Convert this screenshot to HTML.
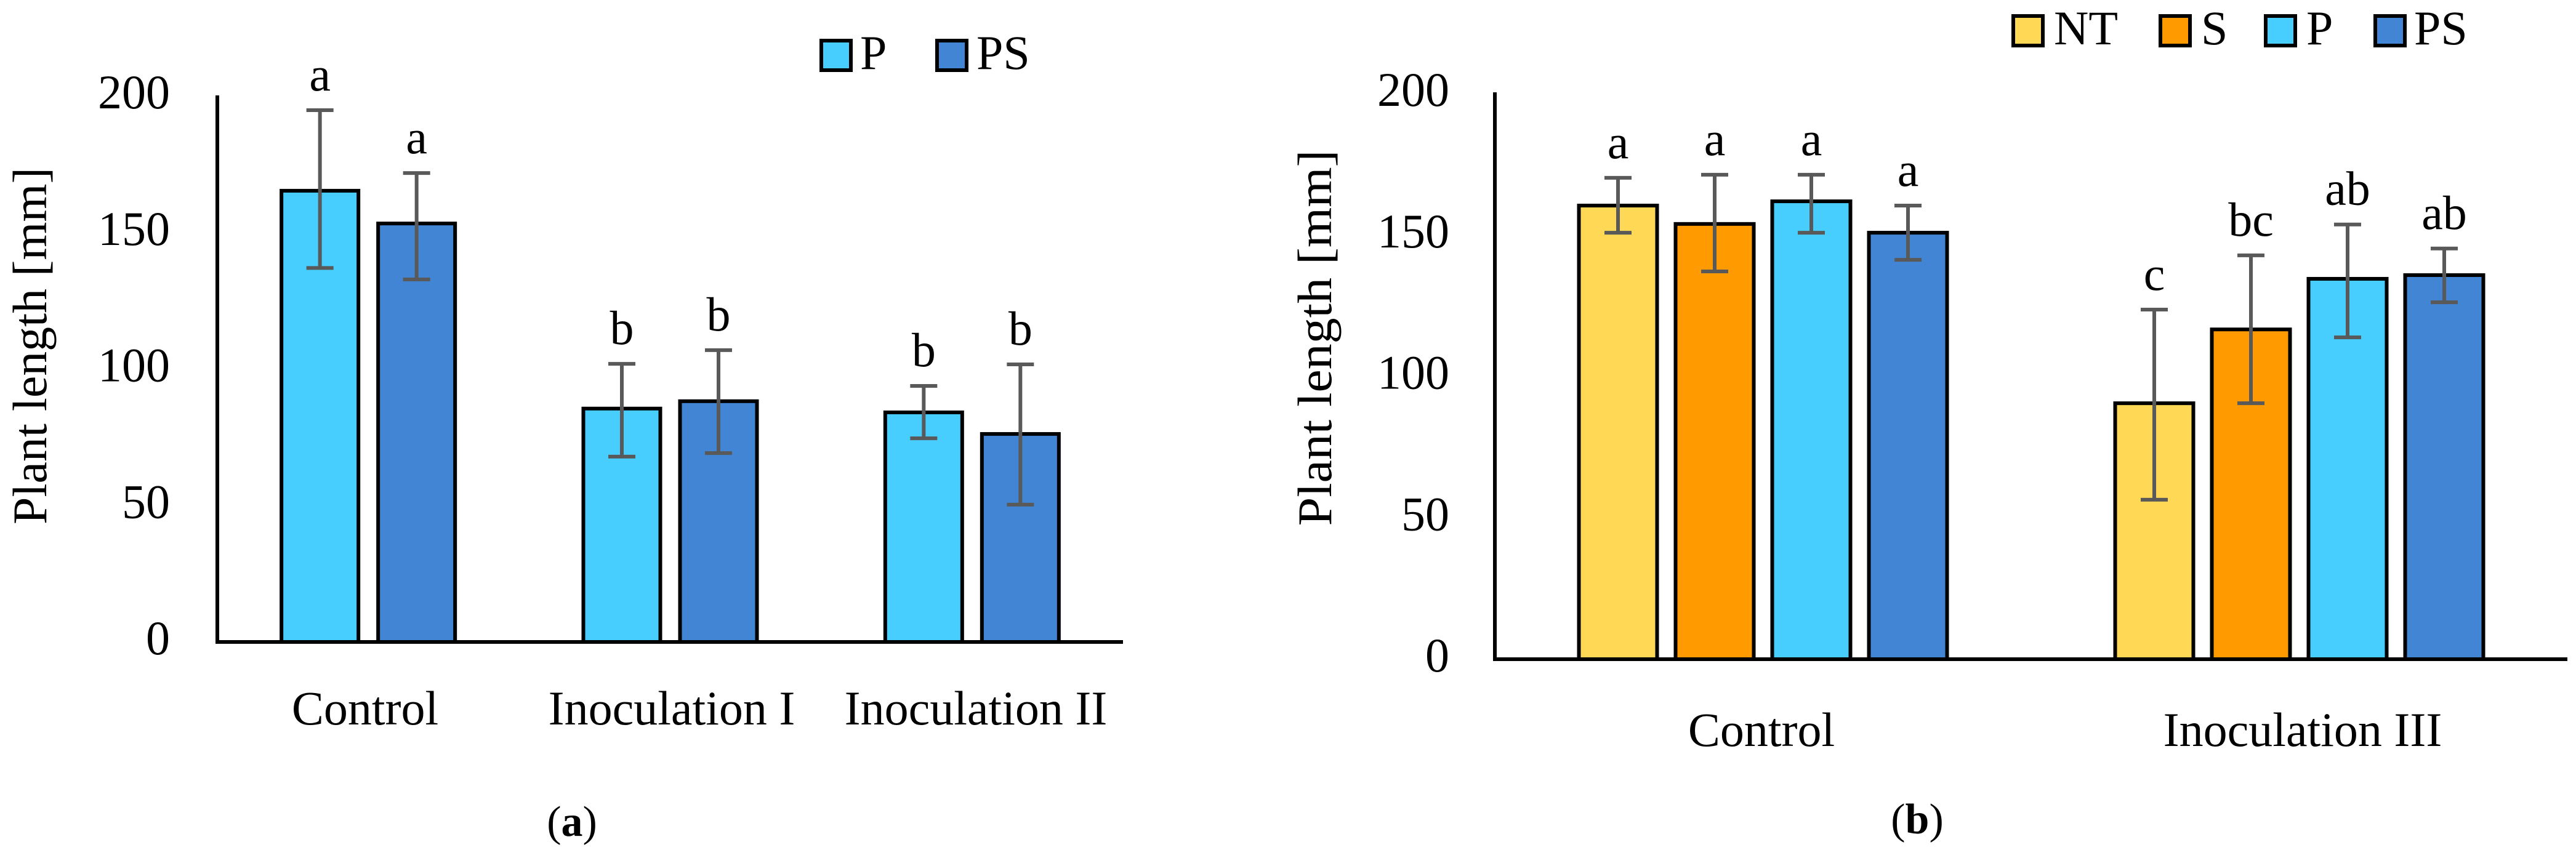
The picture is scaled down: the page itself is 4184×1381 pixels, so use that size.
<!DOCTYPE html>
<html><head><meta charset="utf-8"><style>
html,body{margin:0;padding:0;background:#fff;}
svg{display:block;font-family:"Liberation Serif",serif;}
</style></head><body>
<svg id="fig" width="4184" height="1381" viewBox="0 0 4184 1381">
<rect width="4184" height="1381" fill="#fff"/>
</svg>
<script>
// ---- data panel (a)
const catsA = ["Control", "Inoculation I", "Inoculation II"];
const seriesA = ["P", "PS"];
const valsA_P = [165.3, 85.5, 84.1];
const valsA_PS = [153.3, 88.2, 76.2];
const errHiA_P = [194.8, 101.9, 93.8];
const errLoA_P = [137.0, 67.9, 74.6];
const errHiA_PS = [171.8, 106.9, 101.7];
const errLoA_PS = [132.8, 69.2, 50.3];
const lettersA_P = ["a", "b", "b"];
const lettersA_PS = ["a", "b", "b"];
// ---- data panel (b)
const catsB = ["Control", "Inoculation III"];
const seriesB = ["NT", "S", "P", "PS"];
const valsB_NT = [160.4, 90.5];
const valsB_S = [153.9, 116.6];
const valsB_P = [161.9, 134.5];
const valsB_PS = [150.8, 135.8];
const errHiB_NT = [170.2, 123.6];
const errLoB_NT = [150.8, 56.4];
const errHiB_S = [171.3, 142.8];
const errLoB_S = [137.1, 90.5];
const errHiB_P = [171.3, 153.7];
const errLoB_P = [150.8, 113.8];
const errHiB_PS = [160.4, 145.2];
const errLoB_PS = [141.2, 126.2];
const lettersB_NT = ["a", "c"];
const lettersB_S = ["a", "bc"];
const lettersB_P = ["a", "ab"];
const lettersB_PS = ["a", "ab"];
const ticks = [0, 50, 100, 150, 200];

const NS = "http://www.w3.org/2000/svg";
const svg = document.getElementById("fig");
function mk(tag, attrs, parent, txt) {
  const e = document.createElementNS(NS, tag);
  for (const k in attrs) e.setAttribute(k, attrs[k]);
  if (txt !== undefined) e.textContent = txt;
  (parent || svg).appendChild(e);
  return e;
}
const colors = {NT: "#FFD955", S: "#FF9B00", P: "#47CEFF", PS: "#4285D4"};

function panel(cfg) {
  const g = mk("g", {});
  
  
  const y = v => cfg.y0 - v * cfg.ppu;
  const catW = (cfg.x1 - cfg.x0) / cfg.cats.length;
  const cx = i => cfg.x0 + catW * (i + 0.5);
  // ticks labels
  ticks.forEach(t => {
    const tl = mk("text", {x: cfg.tickX, y: y(t) + 20, "font-size": 78, "text-anchor": "end"}, g, String(t));
    
    
  });
  // bars
  const n = cfg.series.length;
  cfg.cats.forEach((c, i) => {
    cfg.series.forEach((s, j) => {
      const left = cx(i) + (j - n / 2) * cfg.pitch + (cfg.pitch - cfg.bw) / 2;
      const v = cfg.vals[j][i];
      const r = mk("rect", {x: left, y: y(v), width: cfg.bw, height: cfg.y0 - y(v), fill: colors[s], stroke: "#000", "stroke-width": 6}, g);
      
      
      const mx = left + cfg.bw / 2;
      const hi = y(cfg.hi[j][i]), lo = y(cfg.lo[j][i]);
      const eb = mk("path", {d: `M${mx},${hi}V${lo}M${mx-22},${hi}H${mx+22}M${mx-22},${lo}H${mx+22}`, stroke: "#595959", "stroke-width": 6, fill: "none"}, g);
      
      
      const lt = mk("text", {x: mx, y: hi - 32, "font-size": 78, "text-anchor": "middle"}, g, cfg.letters[j][i]);
      
      
    });
    const cl = mk("text", {x: cfg.catX[i], y: cfg.catY, "font-size": 78, "text-anchor": "middle"}, g, c);
    
    
  });
  // axes
  const ax = mk("path", {d: `M${cfg.x0},${cfg.top}V${cfg.y0}H${cfg.x1}`, stroke: "#000", "stroke-width": 6, fill: "none"}, g);
  
  
  const yt = mk("text", {x: 0, y: 0, "font-size": 78, "text-anchor": "middle", transform: `translate(${cfg.titleX},${cfg.titleY}) rotate(-90)`, textLength: cfg.titleLen, lengthAdjust: "spacingAndGlyphs"}, g, "Plant length [mm]");
  
  
  // legend
  cfg.series.forEach((s, j) => {
    const [sx, tx] = cfg.leg[j];
    const lr = mk("rect", {x: sx, y: cfg.legY, width: 48, height: 48, fill: colors[s], stroke: "#000", "stroke-width": 6}, g);
    
    
    const lt = mk("text", {x: tx, y: cfg.legY + 46, "font-size": 78}, g, s);
    
    
  });
  const cap = mk("text", {x: cfg.capX, y: cfg.capY + 22, "font-size": 70, "text-anchor": "middle"}, g);
  
  
  mk("tspan", {}, cap, "(");
  mk("tspan", {"font-weight": "bold"}, cap, cfg.capL);
  mk("tspan", {}, cap, ")");
}

panel({name: "panel-a", cats: catsA, series: seriesA,
  vals: [valsA_P, valsA_PS], hi: [errHiA_P, errHiA_PS], lo: [errLoA_P, errLoA_PS], letters: [lettersA_P, lettersA_PS],
  x0: 353, x1: 1824, y0: 1043, top: 155, ppu: 4.435, pitch: 157, bw: 125, tickX: 276,
  catX: [593, 1091, 1585], catY: 1177, titleX: 75, titleY: 562, titleLen: 580,
  leg: [[1334, 1397], [1522, 1586]], legY: 66, capX: 929, capY: 1336, capL: "a"});

panel({name: "panel-b", cats: catsB, series: seriesB,
  vals: [valsB_NT, valsB_S, valsB_P, valsB_PS], hi: [errHiB_NT, errHiB_S, errHiB_P, errHiB_PS], lo: [errLoB_NT, errLoB_S, errLoB_P, errLoB_PS],
  letters: [lettersB_NT, lettersB_S, lettersB_P, lettersB_PS],
  x0: 2428, x1: 4170, y0: 1071, top: 150, ppu: 4.595, pitch: 157, bw: 127, tickX: 2354,
  catX: [2861, 3740], catY: 1212, titleX: 2162, titleY: 549, titleLen: 611,
  leg: [[3270, 3336], [3509, 3575], [3680, 3746], [3858, 3921]], legY: 26, capX: 3114, capY: 1332, capL: "b"});
</script>
</body></html>
